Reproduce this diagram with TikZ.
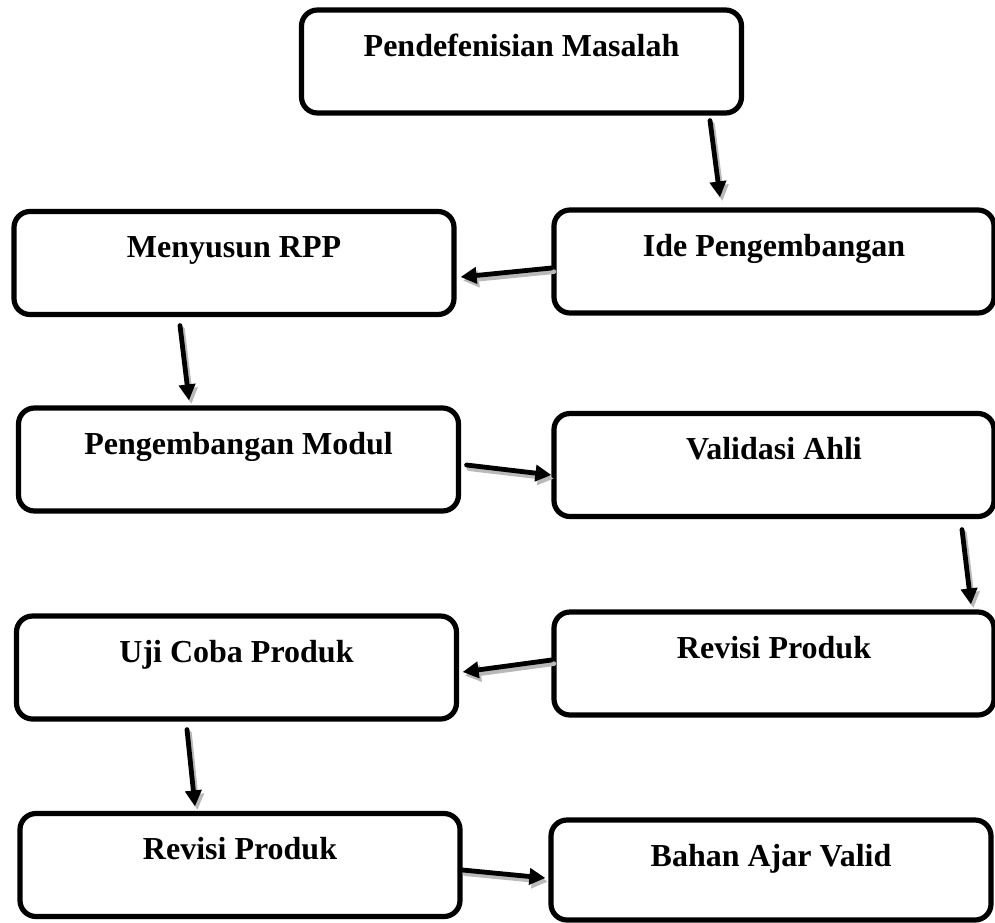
\documentclass[tikz,border=0pt]{standalone}
\usepackage{fontspec}
\setmainfont{Liberation Serif}
\usetikzlibrary{arrows.meta}

\begin{document}
\begin{tikzpicture}[line cap=round,line join=round,x=0.5pt,y=-0.5pt,
  tahap/.style={draw,line width=2.6pt,rounded corners=8pt,minimum width=220pt,
    inner xsep=0pt,inner ysep=0pt,text height=23pt,text depth=28.5pt,
    font=\fontsize{16}{19}\selectfont\bfseries},
  garis/.style={line width=2.4pt,-{Triangle[length=8pt,width=8pt]}},
  bayang/.style={garis,draw=gray!55,transform canvas={xshift=1.2pt,yshift=-1.8pt}}]
  \def\panah#1#2{\draw[bayang] #1 -- #2; \draw[garis] #1 -- #2;}

  \useasboundingbox (0,0) rectangle (995,922);

  % Boxes
  \node[tahap] (masalah)  at (521.5,61.5) {Pendefenisian Masalah};
  \node[tahap] (ide)      at (774,261.5)  {Ide Pengembangan};
  \node[tahap] (rpp)      at (234,263)    {Menyusun RPP};
  \node[tahap] (modul)    at (238.5,459.5) {Pengembangan Modul};
  \node[tahap] (validasi) at (774,465)    {Validasi Ahli};
  \node[tahap] (revkanan) at (774,663.5)  {Revisi Produk};
  \node[tahap] (uji)      at (236.5,667.5) {Uji Coba Produk};
  \node[tahap] (revkiri)  at (240,865)    {Revisi Produk};
  \node[tahap,text depth=27pt] (bahan) at (771,870) {Bahan Ajar Valid};

  % Arrows (with shadow)
  \panah{([xshift=94.25pt,yshift=-2.5pt]masalah.south)}{([xshift=-27pt,yshift=5pt]ide.north)}
  \panah{([yshift=-3.25pt]ide.west)}{([xshift=2pt,yshift=-7pt]rpp.east)}
  \panah{([xshift=-27pt,yshift=-4.25pt]rpp.south)}{([xshift=-24.75pt,yshift=2.5pt]modul.north)}
  \panah{([xshift=2.75pt,yshift=-2.75pt]modul.east)}{([yshift=-5pt]validasi.west)}
  \panah{([xshift=94pt,yshift=-5.25pt]validasi.south)}{([xshift=98.5pt,yshift=2.5pt]revkanan.north)}
  \panah{([yshift=1.75pt]revkanan.west)}{([xshift=1.75pt,yshift=-2.25pt]uji.east)}
  \panah{([xshift=-24.75pt,yshift=-4pt]uji.south)}{([xshift=-22.5pt,yshift=2.25pt]revkiri.north)}
  \panah{([yshift=-2.5pt]revkiri.east)}{([xshift=-1.5pt,yshift=-4pt]bahan.west)}
\end{tikzpicture}
\end{document}
